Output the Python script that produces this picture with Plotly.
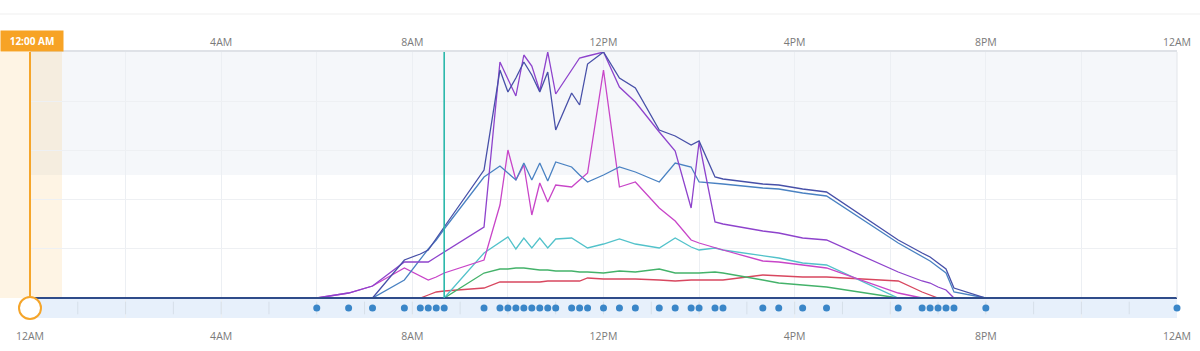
import plotly.graph_objects as go

# ---- data ----
times_min = [0, 360, 400, 430, 470, 490, 500, 510, 520, 570, 590, 600, 610, 620, 630, 640,
             650, 660, 680, 690, 700, 720, 740, 760, 790, 810, 830, 840, 860, 870, 920, 940,
             970, 1000, 1090, 1120, 1130, 1140, 1150, 1160, 1200, 1440]

navy = [0, 0, 0, 0, 38, 44, 48, 59, 71, 128, 228, 206, 220, 236, 223, 206, 226, 168, 205, 193, 234,
        246, 220, 210, 168, 162, 153, 157, 121, 119, 114, 113, 109, 106, 58, 45, 41, 35, 29, 10, 0, 0]
violet = [0, 0, 5, 12, 36, 36, 36, 41, 46, 71, 236, 219, 202, 243, 232, 207, 246, 204, 228, 240, 242,
          246, 211, 196, 166, 147, 90, 156, 76, 74, 67, 65, 60, 58, 26, 17, 15, 11, 8, 0, 0, 0]
magenta = [0, 0, 5, 12, 30, 22, 18, 21, 25, 38, 93, 148, 118, 133, 83, 115, 96, 113, 111, 118, 125,
           228, 111, 116, 90, 77, 58, 55, 50, 48, 37, 36, 33, 30, 5, 0, 0, 0, 0, 0, 0, 0]
blue = [0, 0, 0, 0, 18, 39, 49, 58, 69, 121, 132, 125, 118, 135, 118, 135, 117, 136, 131, 123, 116,
        123, 131, 126, 116, 135, 131, 116, 115, 114, 110, 109, 105, 102, 55, 42, 37, 31, 25, 6, 0, 0]
teal = [0, 0, 0, 0, 0, 0, 0, 0, 0, 45, 56, 61, 49, 60, 50, 60, 50, 59, 60, 55, 50,
        54, 59, 54, 50, 60, 51, 48, 50, 48, 42, 40, 35, 33, 0, 0, 0, 0, 0, 0, 0, 0]
green = [0, 0, 0, 0, 0, 0, 0, 0, 0, 25, 29, 29, 30, 30, 29, 28, 28, 27, 27, 26, 26,
         25, 27, 26, 29, 25, 25, 25, 26, 25, 18, 15, 13, 11, 0, 0, 0, 0, 0, 0, 0, 0]
red = [0, 0, 0, 0, 0, 0, 3, 6, 7, 10, 16, 16, 16, 16, 16, 16, 17, 17, 17, 17, 20,
       19, 19, 19, 18, 17, 18, 18, 18, 18, 23, 22, 21, 21, 17, 6, 3, 0, 0, 0, 0, 0]

tick_hours = [0, 4, 8, 12, 16, 20, 24]
tick_labels = ["12AM", "4AM", "8AM", "12PM", "4PM", "8PM", "12AM"]
cursor_min = 520  # 8:40 AM marker
selected_label = "12:00 AM"

series = [
    ("red", red, "#d8475f"),
    ("green", green, "#44b26a"),
    ("teal", teal, "#52c2ca"),
    ("magenta", magenta, "#c845c8"),
    ("blue", blue, "#4a82c2"),
    ("violet", violet, "#8e43cc"),
    ("navy", navy, "#4750a8"),
]

x_hours = [m / 60 for m in times_min]
YMAX = 246
BAND = -10
YMIN = -20

fig = go.Figure()

for name, vals, col in series:
    fig.add_trace(go.Scatter(x=x_hours, y=vals, mode="lines", name=name,
                             line=dict(color=col, width=1.3), hoverinfo="skip"))

# baseline
fig.add_trace(go.Scatter(x=[0, 24], y=[0, 0], mode="lines", line=dict(color="#2f4c8a", width=2),
                         hoverinfo="skip", cliponaxis=False))

# hourly tick marks in band
fig.add_trace(go.Scatter(x=list(range(1, 24)), y=[BAND] * 23, mode="markers",
                         marker=dict(symbol="line-ns", size=9, line=dict(color="#d6dfe9", width=1)),
                         hoverinfo="skip"))

# data-timestamp dots
fig.add_trace(go.Scatter(x=x_hours[1:], y=[BAND] * (len(x_hours) - 1), mode="markers",
                         marker=dict(size=7, color="#3a86c8"), hoverinfo="skip", cliponaxis=False))

# selection circle
fig.add_trace(go.Scatter(x=[0], y=[BAND], mode="markers",
                         marker=dict(size=22, color="white", line=dict(color="#f5a52a", width=2)),
                         hoverinfo="skip", cliponaxis=False))

# dummy for top axis
fig.add_trace(go.Scatter(x=[0, 24], y=[None, None], xaxis="x2", mode="markers",
                         hoverinfo="skip", showlegend=False))

L = 30 / 1147
shapes = [
    dict(type="rect", xref="paper", yref="y", x0=0, x1=1, y0=YMAX / 2, y1=YMAX,
         fillcolor="#f5f7fa", line_width=0, layer="below"),
    dict(type="rect", xref="paper", yref="y", x0=-L, x1=32 / 1147, y0=0, y1=YMAX,
         fillcolor="rgba(247,163,37,0.12)", line_width=0, layer="below"),
    dict(type="rect", xref="paper", yref="y", x0=0, x1=1, y0=YMIN, y1=-1,
         fillcolor="#e7f0fb", line_width=0, layer="between"),
    dict(type="line", xref="paper", yref="y", x0=1, x1=1, y0=0, y1=YMAX,
         line=dict(color="#e2e5ea", width=1)),
    dict(type="line", xref="paper", yref="paper", x0=-L, x1=1170 / 1147, y0=304 / 266, y1=304 / 266,
         line=dict(color="#efefef", width=1)),
    dict(type="line", xref="x", yref="y", x0=cursor_min / 60, x1=cursor_min / 60, y0=0, y1=YMAX,
         line=dict(color="#2bb8aa", width=1.6), layer="above"),
    dict(type="line", xref="paper", yref="y", x0=0, x1=0, y0=0, y1=YMAX,
         line=dict(color="#f5a52a", width=2), layer="above"),
]

font = dict(family="Open Sans, Arial, sans-serif", size=10.5, color="#7a7a7a")

fig.update_layout(
    width=1200, height=351, autosize=False,
    margin=dict(l=30, r=23, t=52, b=33, pad=0, autoexpand=False),
    paper_bgcolor="white", plot_bgcolor="white",
    showlegend=False, hovermode=False,
    shapes=shapes,
    font=font,
    xaxis=dict(range=[0, 24], tickvals=tick_hours, ticktext=tick_labels,
               ticks="outside", ticklen=8, tickcolor="rgba(0,0,0,0)",
               showgrid=True, gridcolor="#eceff3", gridwidth=1, automargin=False,
               minor=dict(dtick=2, tick0=0, showgrid=True, gridcolor="#eceff3", ticks=""),
               zeroline=False, showline=False, fixedrange=True, tickfont=font),
    xaxis2=dict(range=[0, 24], overlaying="x", side="top", anchor="y", automargin=False,
                tickvals=tick_hours[1:], ticktext=tick_labels[1:],
                ticks="", showgrid=False, zeroline=False,
                showline=True, linecolor="#dfe2e7", linewidth=1.5, tickfont=font),
    yaxis=dict(range=[YMIN, YMAX], showticklabels=False, ticks="", automargin=False,
               tickvals=[49.2, 98.4, 147.6, 196.8], showgrid=True, gridcolor="#eef0f3",
               zeroline=False, showline=False),
    annotations=[dict(text="<b>" + selected_label + "</b>", xref="paper", yref="paper",
                      x=-L, y=1, xanchor="left", yanchor="bottom", showarrow=False,
                      width=62, height=20, bgcolor="#f7a325", borderpad=0,
                      font=dict(family="Open Sans, Arial, sans-serif", size=10, color="white"))],
)

fig.write_html("out.html", config={"responsive": False})
